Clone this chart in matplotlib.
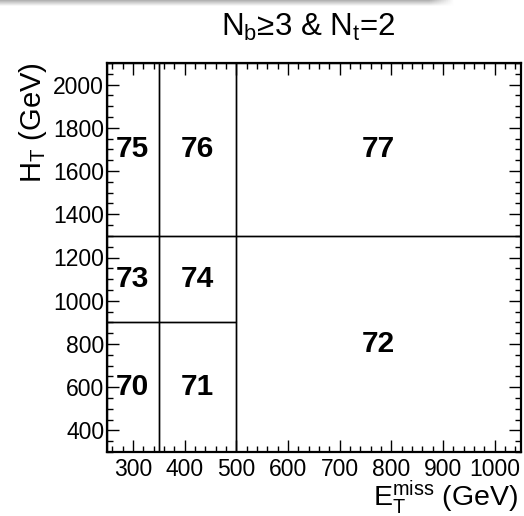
import numpy as np
import matplotlib
matplotlib.use("Agg")
import matplotlib.pyplot as plt
from matplotlib.patches import Rectangle
from matplotlib.ticker import MultipleLocator

plt.rcParams['font.family'] = ['Liberation Sans', 'DejaVu Sans']
plt.rcParams['mathtext.fontset'] = 'custom'
plt.rcParams['mathtext.rm'] = 'Liberation Sans'
plt.rcParams['mathtext.it'] = 'Liberation Sans:italic'
plt.rcParams['mathtext.bf'] = 'Liberation Sans:bold'

# ---- data ----
bin_ids  = [70, 71, 72, 73, 74, 75, 76, 77]
bin_x_lo = [250, 350, 500, 250, 350, 250, 350, 500]
bin_x_hi = [350, 500, 1050, 350, 500, 350, 500, 1050]
bin_y_lo = [300, 300, 300, 900, 900, 1300, 1300, 1300]
bin_y_hi = [900, 900, 1300, 1300, 1300, 2100, 2100, 2100]
x_range = [250, 1050]
y_range = [300, 2100]
title = r'$\mathregular{N_b}$≥3 & $\mathregular{N_t}$=2'
xlabel = r'$\mathregular{E_T^{miss}}$ (GeV)'
ylabel = r'$\mathregular{H_T}$ (GeV)'

W, H = 524, 516
fig = plt.figure(figsize=(W / 100, H / 100), dpi=100)

# top shadow strip
sax = fig.add_axes([0, 1 - 6 / H, 455 / W, 6 / H])
grad = np.linspace(0.70, 0.97, 6)[:, None] * np.ones((1, 200))
alpha_x = np.ones(200)
alpha_x[-12:] = np.linspace(1, 0, 12)
img = np.dstack([grad, grad, grad, np.ones_like(grad) * alpha_x[None, :]])
sax.imshow(img, aspect='auto', extent=[0, 1, 0, 1])
sax.axis('off')

left, right, top, bottom = 107, 520.5, 63, 452
ax = fig.add_axes([left / W, 1 - bottom / H, (right - left) / W, (bottom - top) / H])
ax.set_xlim(*x_range)
ax.set_ylim(*y_range)

for i, x0, x1, y0, y1 in zip(bin_ids, bin_x_lo, bin_x_hi, bin_y_lo, bin_y_hi):
    ax.add_patch(Rectangle((x0, y0), x1 - x0, y1 - y0, fill=False,
                           edgecolor='black', linewidth=1.0, zorder=2))
    ax.text((x0 + x1) / 2, (y0 + y1) / 2, str(i), ha='center', va='center',
            fontsize=21.5, fontweight='bold', zorder=3)

ax.xaxis.set_major_locator(MultipleLocator(100))
ax.xaxis.set_minor_locator(MultipleLocator(20))
ax.yaxis.set_major_locator(MultipleLocator(200))
ax.yaxis.set_minor_locator(MultipleLocator(50))
ax.tick_params(which='both', direction='in', top=True, right=True,
               labelsize=16.5, width=1.0, colors='black')
ax.tick_params(which='major', length=8.5)
ax.tick_params(which='minor', length=4.2)
ax.tick_params(axis='x', pad=4)
ax.tick_params(axis='y', pad=2)
for s in ax.spines.values():
    s.set_linewidth(1.6)

fig.text(308.5 / W, 1 - 36 / H, title, ha='center', va='baseline', fontsize=22.5)
fig.text(518 / W, 1 - 506 / H, xlabel, ha='right', va='baseline', fontsize=20.5)
fig.text(17 / W, 1 - 62 / H, ylabel, ha='left', va='top', rotation=90, fontsize=21)

fig.savefig('out.png', dpi=100)
